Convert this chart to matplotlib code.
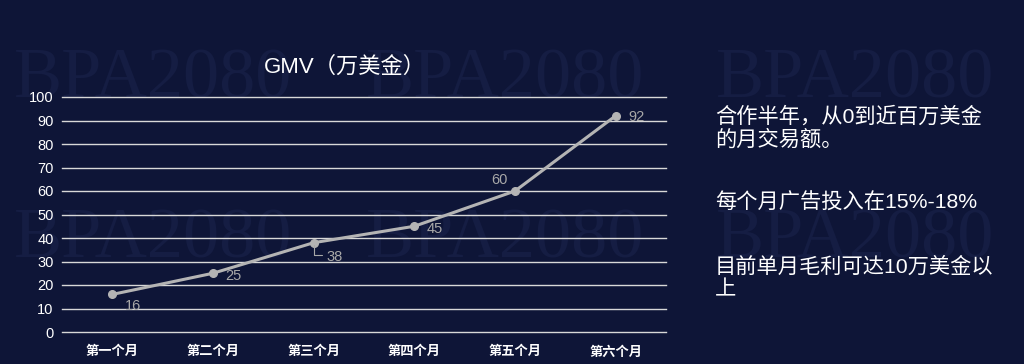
import matplotlib
matplotlib.use("Agg")
import matplotlib.pyplot as plt

plt.rcParams['font.family'] = ['Liberation Sans', 'Noto Sans CJK SC', 'DejaVu Sans']

categories = ["第一个月", "第二个月", "第三个月", "第四个月", "第五个月", "第六个月"]
values = [16, 25, 38, 45, 60, 92]
yticks = [0, 10, 20, 30, 40, 50, 60, 70, 80, 90, 100]
title = "GMV（万美金）"
notes = ["合作半年，从0到近百万美金\n的月交易额。", "每个月广告投入在15%-18%", "目前单月毛利可达10万美金以\n上"]
watermark = "BPA2080"

BG = "#0e1537"
W, H = 1024, 364
fig = plt.figure(figsize=(W/100, H/100), dpi=100, facecolor=BG)

# background layer for watermarks
bg = fig.add_axes([0, 0, 1, 1], zorder=-5)
bg.set_axis_off()
bg.set_xlim(0, W)
bg.set_ylim(H, 0)
for (cx, cy) in [(153, 80), (505, 80), (855, 80), (153, 240), (505, 240), (855, 240)]:
    bg.text(cx, cy, watermark, ha='center', va='center', fontsize=52,
            family='Liberation Serif', color='#151d43')

ax = fig.add_axes([62/W, 1-332/H, (666-62)/W, (332-97)/H], zorder=1)
ax.set_facecolor('none')
x = list(range(len(categories)))
ax.set_xlim(-0.5, len(categories)-0.5)
ax.set_ylim(0, 100)
ax.set_yticks(yticks)
ax.set_yticklabels([str(t) for t in yticks], color='white', fontsize=10.5)
ax.set_xticks(x)
ax.set_xticklabels(categories, color='white', fontsize=9.5, fontweight='bold')
ax.tick_params(axis='both', length=0, pad=6)
ax.tick_params(axis='x', pad=10)
for s in ax.spines.values():
    s.set_visible(False)
ax.grid(axis='y', color='#d8d8d8', linewidth=1)
for gl in ax.get_ygridlines():
    gl.set_clip_on(False)
ax.set_axisbelow(True)

ax.plot(x, values, color='#b4b4b4', linewidth=2.2, marker='o', markersize=5.5, zorder=3,
        clip_on=False)

offsets = [(9, -8, 'left'), (9, -2, 'left'), (9, -10, 'left'), (9, -2, 'left'), (-5, 3, 'right'), (9, -1, 'left')]
for i, v in enumerate(values):
    dx, dy, ha = offsets[i]
    ax.annotate(str(v), (i, v), xytext=(dx, dy), textcoords='offset points',
                ha=ha, va='center' if ha == 'left' else 'bottom', color='#a8a8a8', fontsize=10.5)
# leader line for 38
ax.annotate("", (2, values[2]), xytext=(8, -9), textcoords='offset points',
            arrowprops=dict(arrowstyle='-', color='#a8a8a8', lw=0.8,
                            connectionstyle='angle,angleA=0,angleB=90,rad=0'))

fig.text(345/W, 1-67/H, title, ha='center', va='center', color='white', fontsize=16)

ys = [128, 203, 278]
for t, yy in zip(notes, ys):
    fig.text(715/W, 1-yy/H, t, ha='left', va='center', color='white', fontsize=15.3,
             linespacing=1.18)

fig.savefig("out.png", dpi=100, facecolor=BG)
